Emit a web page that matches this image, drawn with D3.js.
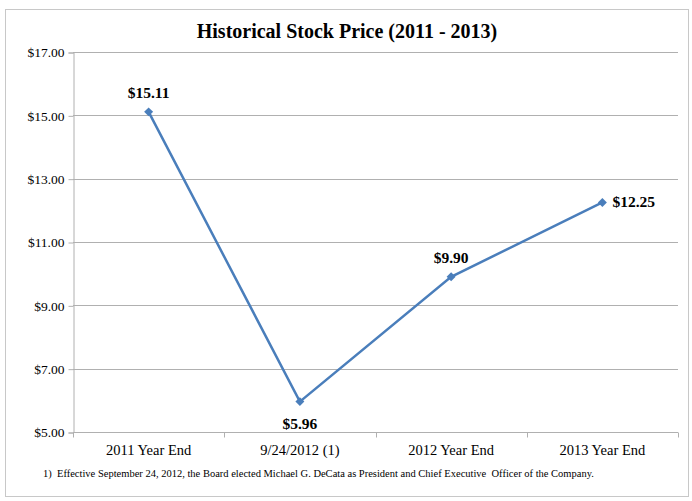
<!DOCTYPE html>
<html>
<head>
<meta charset="utf-8">
<script src="https://cdn.jsdelivr.net/npm/d3@7"></script>
<style>
  body { margin: 0; background: #fff; }
  svg text { font-family: "Times New Roman", "Liberation Serif", "DejaVu Serif", serif !important; fill: #000; }
</style>
</head>
<body>
<script>
var categories = ["2011 Year End", "9/24/2012 (1)", "2012 Year End", "2013 Year End"];
var prices = [15.11, 5.96, 9.90, 12.25];
var labelPos = ["above", "below", "above", "right"];
var yTicks = [5, 7, 9, 11, 13, 15, 17];
var title = "Historical Stock Price (2011 - 2013)";
var footnote = "1)  Effective September 24, 2012, the Board elected Michael G. DeCata as President and Chief Executive  Officer of the Company.";

var width = 692, height = 501;
var svg = d3.select("body").append("svg")
    .attr("width", width)
    .attr("height", height)
    .attr("font-family", "'Liberation Serif', serif");

// chart frame
svg.append("rect")
    .attr("x", 5.5).attr("y", 9.5)
    .attr("width", 683).attr("height", 487)
    .attr("fill", "#fff")
    .attr("stroke", "#c8c8c8");

var x = d3.scaleBand().domain(categories).range([73, 678]);
var y = d3.scaleLinear().domain([5, 17]).range([432, 52]);

// gridlines
svg.append("g").selectAll("line")
    .data(yTicks.slice(1))
    .join("line")
    .attr("x1", 73).attr("x2", 678)
    .attr("y1", d => Math.round(y(d)) + 0.5)
    .attr("y2", d => Math.round(y(d)) + 0.5)
    .attr("stroke", "#b0b0b0");

// y axis
var yAxis = svg.append("g")
    .attr("transform", "translate(73.5,0.5)")
    .call(d3.axisLeft(y).tickValues(yTicks).tickSize(5).tickPadding(4)
      .tickFormat(d => "$" + d3.format(".2f")(d)));
yAxis.attr("font-family", null);
yAxis.selectAll("text").attr("font-size", 13.5);
yAxis.selectAll("line, path").attr("stroke", "#b0b0b0");

// x axis
var xAxis = svg.append("g")
    .attr("transform", "translate(0," + (Math.round(y(5)) + 0.5) + ")");
xAxis.append("line")
    .attr("x1", 73).attr("x2", 678)
    .attr("stroke", "#b0b0b0");
xAxis.selectAll("line.tick")
    .data(categories.map(c => x(c)).concat([678]))
    .join("line")
    .attr("class", "tick")
    .attr("x1", d => Math.round(d) + 0.5).attr("x2", d => Math.round(d) + 0.5)
    .attr("y1", 0).attr("y2", 5)
    .attr("stroke", "#b0b0b0");
xAxis.selectAll("text")
    .data(categories)
    .join("text")
    .attr("x", d => x(d) + x.bandwidth() / 2)
    .attr("y", 22)
    .attr("text-anchor", "middle")
    .attr("font-size", 14.5)
    .text(d => d);

// line
var pts = categories.map((c, i) => [x(c) + x.bandwidth() / 2, y(prices[i])]);
svg.append("path")
    .datum(pts)
    .attr("fill", "none")
    .attr("stroke", "#4a7ebb")
    .attr("stroke-width", 2.5)
    .attr("d", d3.line());

svg.append("g").selectAll("path")
    .data(pts)
    .join("path")
    .attr("transform", d => "translate(" + d[0] + "," + d[1] + ") rotate(45)")
    .attr("d", d3.symbol().type(d3.symbolSquare).size(40))
    .attr("fill", "#4a7ebb");

// data labels
svg.append("g").selectAll("text")
    .data(pts)
    .join("text")
    .attr("x", (d, i) => labelPos[i] === "right" ? d[0] + 10 : d[0])
    .attr("y", (d, i) => labelPos[i] === "above" ? d[1] - 14 : labelPos[i] === "below" ? d[1] + 27 : d[1] + 5)
    .attr("text-anchor", (d, i) => labelPos[i] === "right" ? "start" : "middle")
    .attr("font-size", 15.5)
    .attr("font-weight", "bold")
    .text((d, i) => "$" + d3.format(".2f")(prices[i]));

// title
svg.append("text")
    .attr("x", 347).attr("y", 38)
    .attr("text-anchor", "middle")
    .attr("font-size", 20)
    .attr("font-weight", "bold")
    .text(title);

// footnote
svg.append("text")
    .attr("x", 43).attr("y", 477)
    .attr("font-size", 10.5)
    .attr("xml:space", "preserve")
    .style("white-space", "pre")
    .text(footnote);
</script>
</body>
</html>
